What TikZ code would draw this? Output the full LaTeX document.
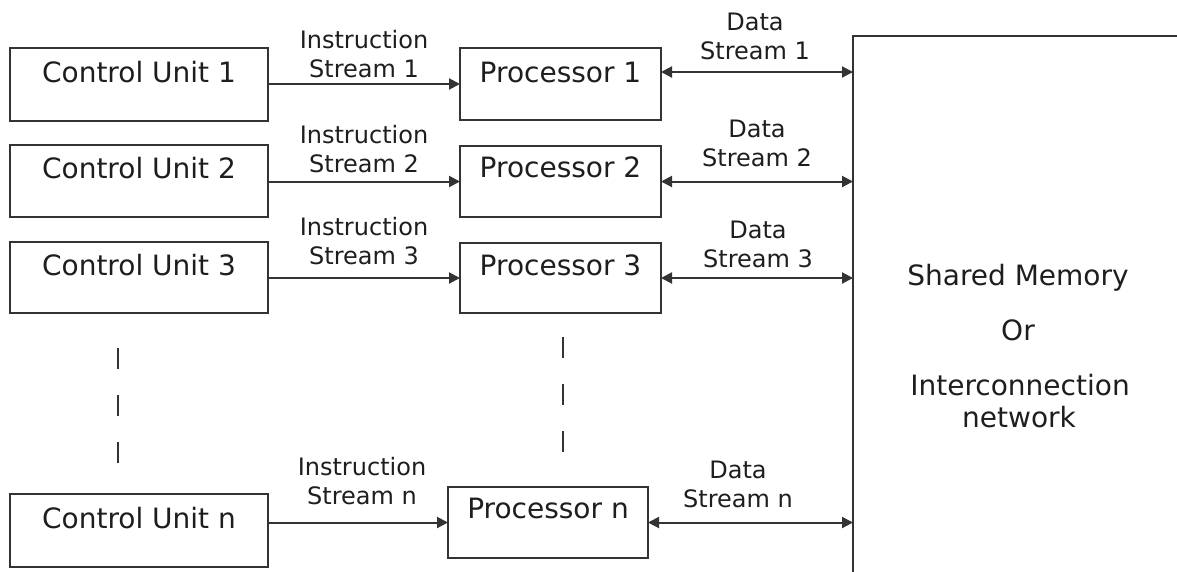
\documentclass[tikz,border=0pt]{standalone}
\usepackage{fontspec}
\setmainfont{DejaVu Sans}
\usetikzlibrary{arrows.meta}
\definecolor{ink}{HTML}{1E1E1E}
\definecolor{linec}{HTML}{333333}
\tikzset{
  boxshape/.style={draw=linec, line width=2pt, inner sep=0pt, outer sep=0pt, rectangle},
  boxtxt/.style={inner sep=0pt, text=ink, font=\fontsize{28}{34}\selectfont, anchor=base},
  lbl/.style={inner sep=0pt, text=ink, font=\fontsize{24}{29}\selectfont, align=center, anchor=south},
  arr/.style={draw=linec, line width=2pt, -{Triangle[length=11pt,width=11pt]}},
  darr/.style={draw=linec, line width=2pt, {Triangle[length=11pt,width=11pt]}-{Triangle[length=11pt,width=11pt]}},
  dots/.style={draw=linec, line width=2pt, dash pattern=on 21pt off 26pt}
}
\begin{document}
\begin{tikzpicture}[x=1pt,y=-1pt]
\useasboundingbox (0,0) rectangle (1177,571);
\clip (0,0) rectangle (1177,571);
\fill[white] (0,0) rectangle (1177,571);

% control units
\node[boxshape, minimum width=258pt, minimum height=73pt, anchor=north west] (cu1) at (10,48) {};
\node[boxshape, minimum width=258pt, minimum height=72pt, anchor=north west] (cu2) at (10,145) {};
\node[boxshape, minimum width=258pt, minimum height=71pt, anchor=north west] (cu3) at (10,242) {};
\node[boxshape, minimum width=258pt, minimum height=73pt, anchor=north west] (cun) at (10,494) {};
\node[boxtxt] (cu1t) at (139,82) {Control Unit 1};
\node[boxtxt] (cu2t) at (139,178) {Control Unit 2};
\node[boxtxt] (cu3t) at (139,275) {Control Unit 3};
\node[boxtxt] (cunt) at (139,528) {Control Unit n};

% processors
\node[boxshape, minimum width=201pt, minimum height=72pt, anchor=north west] (p1) at (460,48) {};
\node[boxshape, minimum width=201pt, minimum height=71pt, anchor=north west] (p2) at (460,146) {};
\node[boxshape, minimum width=201pt, minimum height=70pt, anchor=north west] (p3) at (460,243) {};
\node[boxshape, minimum width=200pt, minimum height=71pt, anchor=north west] (pn) at (448,487) {};
\node[boxtxt] (p1t) at (560.5,82) {Processor 1};
\node[boxtxt] (p2t) at (560.5,177) {Processor 2};
\node[boxtxt] (p3t) at (560.5,275) {Processor 3};
\node[boxtxt] (pnt) at (548,518) {Processor n};

% shared memory
\node[boxshape, minimum width=400pt, minimum height=600pt, anchor=north west] (mem) at (853,36) {};
\node[boxtxt] (m1) at (1018,285) {Shared Memory};
\node[boxtxt] (m2) at (1018,340) {Or};
\node[boxtxt] (m3) at (1020,395) {Interconnection};
\node[boxtxt] (m4) at (1019,427) {network};

% instruction streams
\draw[arr] (cu1.east |- p1.west) -- (p1.west);
\draw[arr] (cu2.east |- p2.west) -- (p2.west);
\draw[arr] (cu3.east |- p3.west) -- (p3.west);
\draw[arr] (cun.east |- pn.west) -- (pn.west);
\node[lbl] (is1) at (364,78) {Instruction\\Stream 1};
\node[lbl] (is2) at (364,173) {Instruction\\Stream 2};
\node[lbl] (is3) at (364,265) {Instruction\\Stream 3};
\node[lbl] (isn) at (362,505) {Instruction\\Stream n};

% data streams
\draw[darr] ([yshift=12pt]p1.east) -- ([yshift=12pt]p1.east -| mem.west);
\draw[darr] (p2.east) -- (p2.east -| mem.west);
\draw[darr] (p3.east) -- (p3.east -| mem.west);
\draw[darr] (pn.east) -- (pn.east -| mem.west);
\node[lbl] (ds1) at (755,60) {Data\\Stream 1};
\node[lbl] (ds2) at (757,167) {Data\\Stream 2};
\node[lbl] (ds3) at (758,268) {Data\\Stream 3};
\node[lbl] (dsn) at (738,508) {Data\\Stream n};

% continuation marks
\coordinate (la) at (118,348);
\coordinate (lb) at (118,463);
\coordinate (ma) at (563,337);
\coordinate (mb) at (563,454);
\draw[dots] (la) -- (lb);
\draw[dots] (ma) -- (mb);
\end{tikzpicture}
\end{document}
